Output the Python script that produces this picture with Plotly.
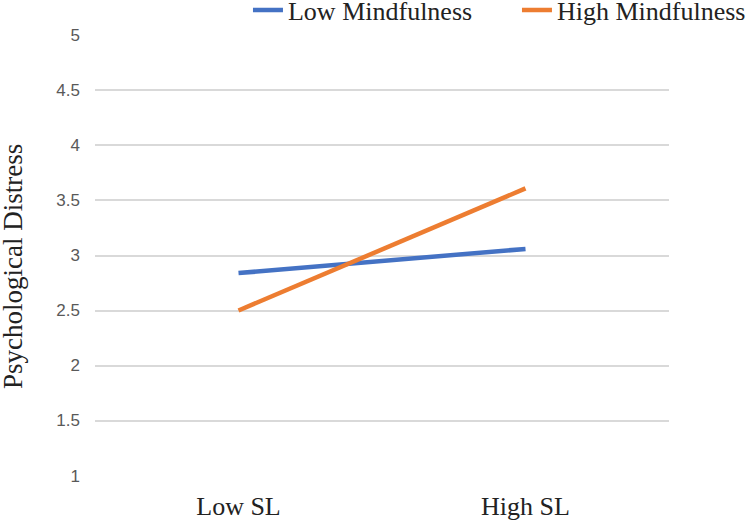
import plotly.graph_objects as go

categories = ["Low SL", "High SL"]
low_mindfulness = [2.84, 3.06]
high_mindfulness = [2.50, 3.61]
y_ticks = [1, 1.5, 2, 2.5, 3, 3.5, 4, 4.5, 5]
y_tick_labels = ["1", "1.5", "2", "2.5", "3", "3.5", "4", "4.5", "5"]
y_title = "Psychological Distress"

serif = "Liberation Serif, Times New Roman, serif"

fig = go.Figure()
fig.add_trace(go.Scatter(x=categories, y=low_mindfulness, mode="lines",
                         name="Low Mindfulness",
                         line=dict(color="#4472C4", width=4.5)))
fig.add_trace(go.Scatter(x=categories, y=high_mindfulness, mode="lines",
                         name="High Mindfulness",
                         line=dict(color="#ED7D31", width=4.5)))

fig.update_layout(
    width=750, height=520,
    margin=dict(l=95, r=81, t=35, b=44, autoexpand=False),
    plot_bgcolor="white", paper_bgcolor="white",
    showlegend=True,
    legend=dict(orientation="h", x=0.2665, xanchor="left",
                y=1.0567, yanchor="middle",
                font=dict(family=serif, size=26, color="#222222"),
                entrywidth=224, bgcolor="rgba(0,0,0,0)"),
    xaxis=dict(type="category", range=[-0.5, 1.5], showgrid=False,
               showline=False, zeroline=False,
               tickfont=dict(family=serif, size=26, color="#222222"),
               ticklabelstandoff=12),
    yaxis=dict(range=[0.996, 5.004], tickvals=y_ticks, ticktext=y_tick_labels,
               showgrid=True, gridcolor="#D9D9D9", gridwidth=1.5,
               zeroline=False, showline=False,
               tickfont=dict(family="Liberation Sans, Arial, sans-serif", size=17, color="#595959"),
               ticklabelstandoff=14),
    annotations=[dict(text=y_title, textangle=-90, showarrow=False,
                      xref="paper", yref="paper",
                      x=-0.1428, y=0.474, xanchor="center", yanchor="middle",
                      font=dict(family=serif, size=27, color="#222222"))],
)

# remove the browser's default 8px body margin so the figure sits at (0, 0)
fig.write_html("out.html",
               config={"displayModeBar": False},
               post_script="document.body.style.margin='0';")
